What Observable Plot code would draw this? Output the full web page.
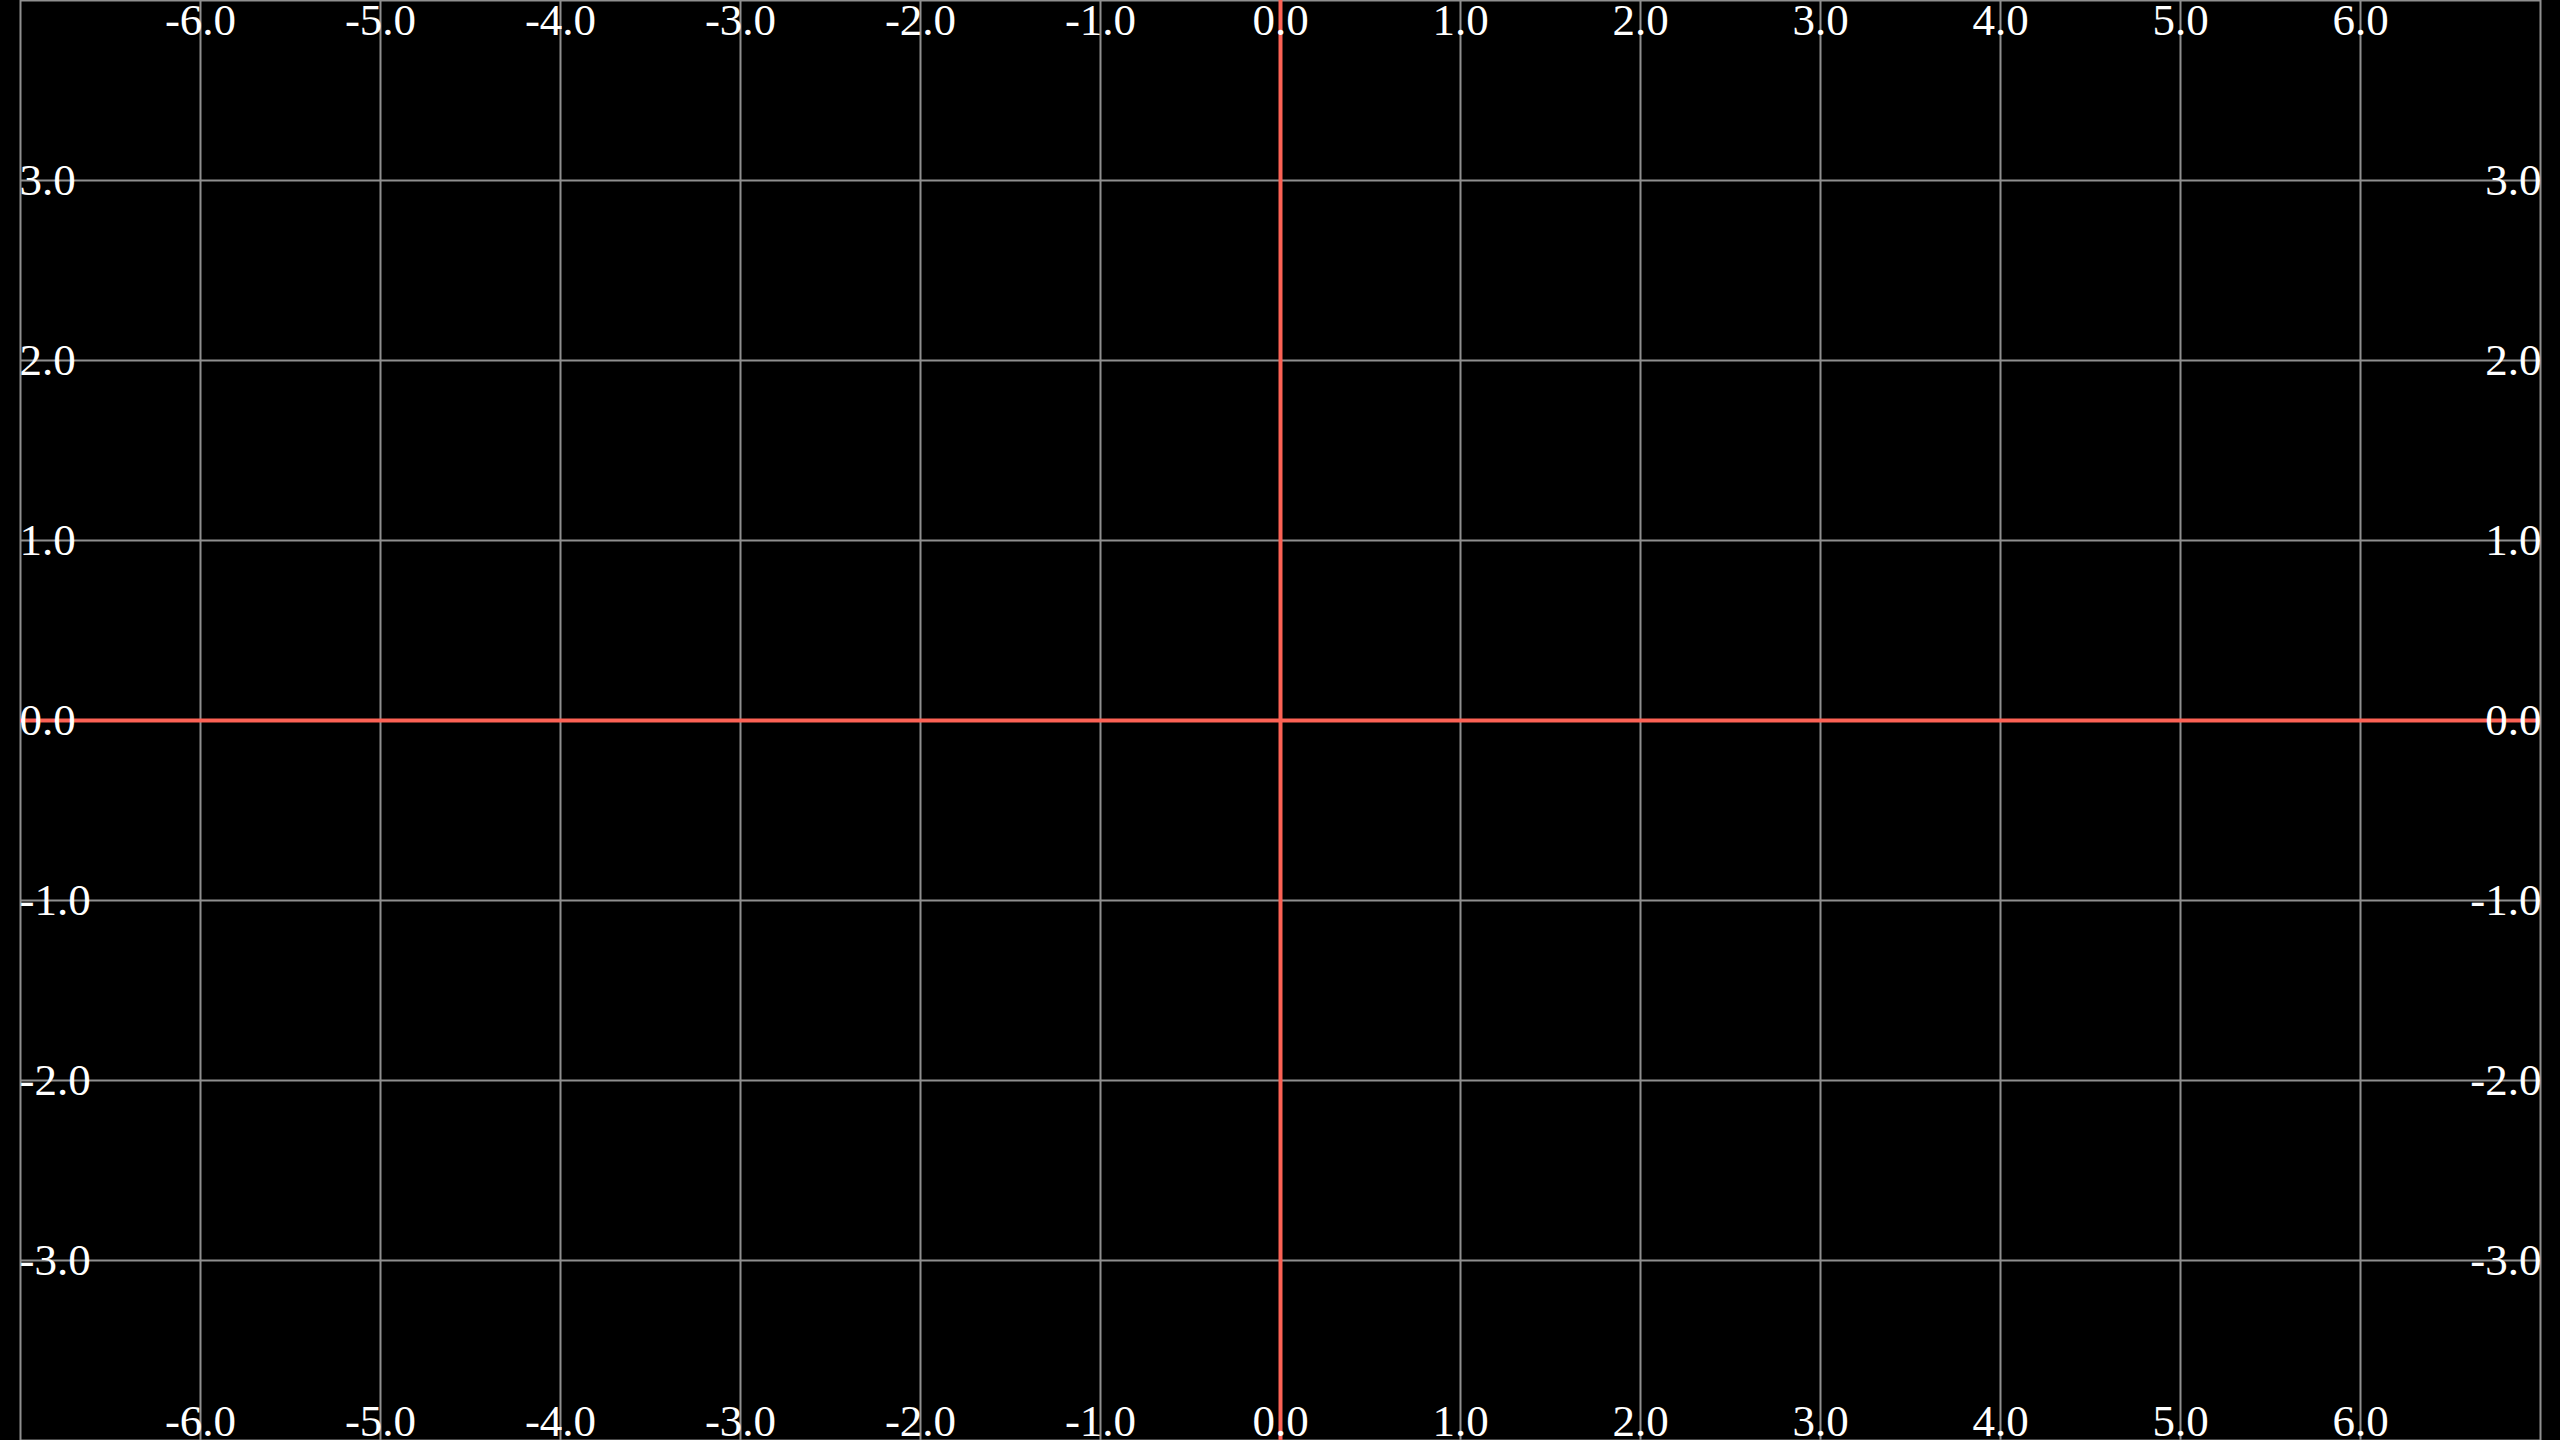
<!DOCTYPE html>
<html>
<head>
<meta charset="utf-8">
<script src="https://cdn.jsdelivr.net/npm/d3@7"></script>
<script src="https://cdn.jsdelivr.net/npm/@observablehq/plot@0.6"></script>
<style>
  html, body { margin: 0; padding: 0; background: #000; overflow: hidden; }
  #chart svg { display: block; }
</style>
</head>
<body>
<div id="chart"></div>
<script>
// Plane extents (the drawn frame) and the visible window
const xRange = [-7, 7];
const yRange = [-4, 4];
const xView = [-1280 / 180, 1280 / 180];
const yView = [-4, 4];

// Tick values and labels
const xTicks = [-6, -5, -4, -3, -2, -1, 0, 1, 2, 3, 4, 5, 6];
const yTicks = [-3, -2, -1, 0, 1, 2, 3];
const xLabels = xTicks.map(v => v.toFixed(1));
const yLabels = yTicks.map(v => v.toFixed(1));
const axisOrigin = [0];

const gridColor = "#8f8f8f";
const axisColor = "#FC6255";
const font = "'Liberation Serif', 'DejaVu Serif', serif";
const fs = 45;

const xLabelData = xTicks.map((v, i) => ({v, label: xLabels[i]}));
const yLabelData = yTicks.map((v, i) => ({v, label: yLabels[i]}));

const chart = Plot.plot({
  width: 2560,
  height: 1440,
  margin: 0,
  style: {background: "#000", color: "#fff", fontFamily: font},
  x: {domain: xView, axis: null},
  y: {domain: yView, axis: null},
  marks: [
    // background grid
    Plot.ruleX(xTicks, {x: d => d, y1: yRange[0], y2: yRange[1], stroke: gridColor, strokeWidth: 2}),
    Plot.ruleY(yTicks, {y: d => d, x1: xRange[0], x2: xRange[1], stroke: gridColor, strokeWidth: 2}),
    // frame edges
    Plot.ruleX(xRange, {x: d => d, y1: yRange[0], y2: yRange[1], stroke: gridColor, strokeWidth: 2}),
    Plot.ruleY(yRange, {y: d => d, x1: xRange[0], x2: xRange[1], stroke: gridColor, strokeWidth: 2}),
    // red axes
    Plot.ruleY(axisOrigin, {y: d => d, x1: xRange[0], x2: xRange[1], stroke: axisColor, strokeWidth: 4}),
    Plot.ruleX(axisOrigin, {x: d => d, y1: yRange[0], y2: yRange[1], stroke: axisColor, strokeWidth: 4}),
    // x labels top and bottom
    Plot.text(xLabelData, {x: "v", y: yRange[1], dy: 20, text: "label", fill: "#fff", fontSize: fs, textAnchor: "middle", lineAnchor: "middle", fontFamily: font}),
    Plot.text(xLabelData, {x: "v", y: yRange[0], dy: -19, text: "label", fill: "#fff", fontSize: fs, textAnchor: "middle", lineAnchor: "middle", fontFamily: font}),
    // y labels left and right
    Plot.text(yLabelData, {x: xRange[0], y: "v", dx: -1, text: "label", fill: "#fff", fontSize: fs, textAnchor: "start", lineAnchor: "middle", fontFamily: font}),
    Plot.text(yLabelData, {x: xRange[1], y: "v", dx: 1, text: "label", fill: "#fff", fontSize: fs, textAnchor: "end", lineAnchor: "middle", fontFamily: font})
  ]
});
document.getElementById("chart").appendChild(chart);
</script>
</body>
</html>
